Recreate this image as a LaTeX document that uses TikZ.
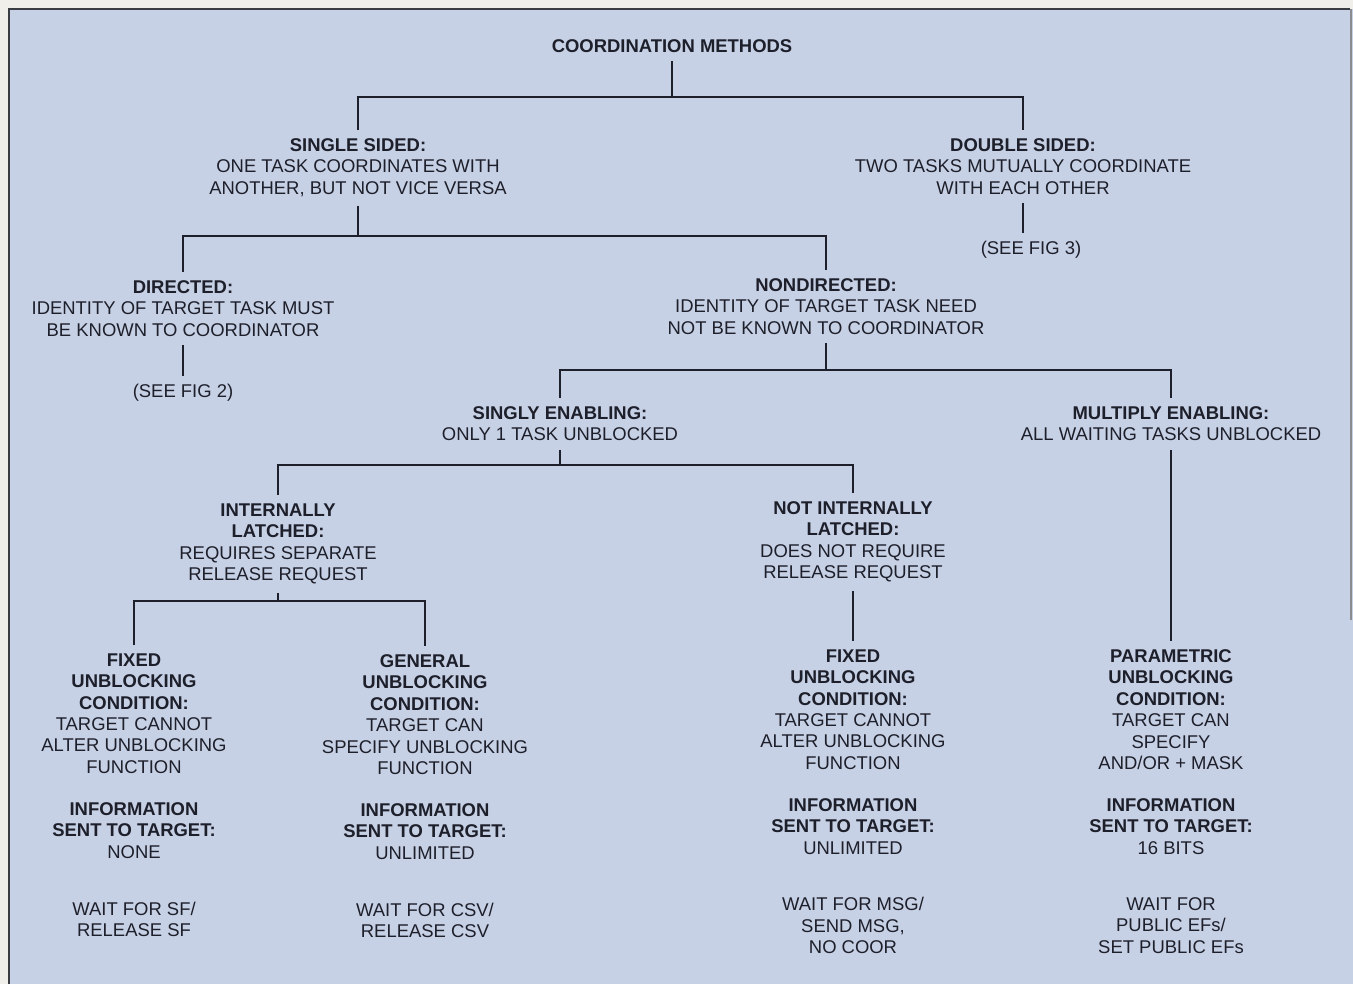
\documentclass[tikz,border=0pt]{standalone}
\usepackage{fontspec}
\setmainfont{Liberation Sans}
\usepackage{xcolor}
\usepackage{tikz}
\usetikzlibrary{positioning}
\definecolor{paper}{HTML}{F1EFE9}
\definecolor{panel}{HTML}{C7D1E5}
\definecolor{ink}{HTML}{1D1F2A}
\definecolor{rim}{HTML}{3A3D42}

\begin{document}
\begin{tikzpicture}[x=0.02cm,y=-0.02cm]
    \tikzset{n/.style={align=center,inner sep=0pt,outer xsep=0pt,outer ysep=5.1pt,anchor=north,text=ink,font=\fontsize{10.5}{12.2}\selectfont}, e/.style={draw=ink,line width=1.1pt}}
    % page and panel
    \fill[paper] (0,0) rectangle (1353,984);
    \fill[panel] (9,9) rectangle (1353,984);
    \draw[rim,line width=1pt] (9,984) -- (9,9) -- (1350,9);
    \draw[rim!60,line width=0.6pt] (1351,9) -- (1351,620);
    \useasboundingbox (0,0) rectangle (1353,984);
    % tree
    \node[n] (cm) at (672,30.5) {\textbf{COORDINATION METHODS}};
    \node[n] (ss) at (358,129.5) {\textbf{SINGLE SIDED:}\\ONE TASK COORDINATES WITH\\ANOTHER, BUT NOT VICE VERSA};
    \node[n] (ds) at (1023,129.5) {\textbf{DOUBLE SIDED:}\\TWO TASKS MUTUALLY COORDINATE\\WITH EACH OTHER};
    \node[n] (fig3) at (1031,232.5) {(SEE FIG 3)};
    \node[n] (dir) at (183,271.5) {\textbf{DIRECTED:}\\IDENTITY OF TARGET TASK MUST\\BE KNOWN TO COORDINATOR};
    \node[n] (fig2) at (183,375.5) {(SEE FIG 2)};
    \node[n] (ndir) at (826,269.5) {\textbf{NONDIRECTED:}\\IDENTITY OF TARGET TASK NEED\\NOT BE KNOWN TO COORDINATOR};
    \node[n] (se) at (560,397.5) {\textbf{SINGLY ENABLING:}\\ONLY 1 TASK UNBLOCKED};
    \node[n] (me) at (1171,397.5) {\textbf{MULTIPLY ENABLING:}\\ALL WAITING TASKS UNBLOCKED};
    \node[n] (il) at (278,494.5) {\textbf{INTERNALLY}\\\textbf{LATCHED:}\\REQUIRES SEPARATE\\RELEASE REQUEST};
    \node[n] (nil) at (853,492.5) {\textbf{NOT INTERNALLY}\\\textbf{LATCHED:}\\DOES NOT REQUIRE\\RELEASE REQUEST};
    \node[n] (fa) at (134,644.5) {\textbf{FIXED}\\\textbf{UNBLOCKING}\\\textbf{CONDITION:}\\TARGET CANNOT\\ALTER UNBLOCKING\\FUNCTION};
    \node[n] (ga) at (425,645.5) {\textbf{GENERAL}\\\textbf{UNBLOCKING}\\\textbf{CONDITION:}\\TARGET CAN\\SPECIFY UNBLOCKING\\FUNCTION};
    \node[n] (fb) at (853,640.5) {\textbf{FIXED}\\\textbf{UNBLOCKING}\\\textbf{CONDITION:}\\TARGET CANNOT\\ALTER UNBLOCKING\\FUNCTION};
    \node[n] (pb) at (1171,640.5) {\textbf{PARAMETRIC}\\\textbf{UNBLOCKING}\\\textbf{CONDITION:}\\TARGET CAN\\SPECIFY\\AND/OR + MASK};
    % information sent and calls
    \node[n,below=0.22cm of fa] (fainfo) {\textbf{INFORMATION}\\\textbf{SENT TO TARGET:}\\NONE};
    \node[n,below=0.22cm of ga] (gainfo) {\textbf{INFORMATION}\\\textbf{SENT TO TARGET:}\\UNLIMITED};
    \node[n,below=0.22cm of fb] (fbinfo) {\textbf{INFORMATION}\\\textbf{SENT TO TARGET:}\\UNLIMITED};
    \node[n,below=0.22cm of pb] (pbinfo) {\textbf{INFORMATION}\\\textbf{SENT TO TARGET:}\\16 BITS};
    \node[n,below=0.51cm of fainfo] (fawait) {WAIT FOR SF/\\RELEASE SF};
    \node[n,below=0.51cm of gainfo] (gawait) {WAIT FOR CSV/\\RELEASE CSV};
    \node[n,below=0.5cm of fbinfo] (fbwait) {WAIT FOR MSG/\\SEND MSG,\\NO COOR};
    \node[n,below=0.5cm of pbinfo] (pbwait) {WAIT FOR\\PUBLIC EFs/\\SET PUBLIC EFs};
    % branch points
    \coordinate (j1) at (672,97);
    \coordinate (j2) at (358,236);
    \coordinate (j3) at (826,370);
    \coordinate (j4) at (560,465);
    \coordinate (j5) at (278,601);
    \draw[e] (cm.south) -- (j1) -| (ss.north); \draw[e] (j1) -| (ds.north);
    \draw[e] (ss.south) -- (j2) -| (dir.north); \draw[e] (j2) -| (ndir.north);
    \draw[e] (ds.south) -- (ds.south |- fig3.north);
    \draw[e] (dir.south) -- (fig2.north);
    \draw[e] (ndir.south) -- (j3) -| (se.north); \draw[e] (j3) -| (me.north);
    \draw[e] (se.south) -- (j4) -| (il.north); \draw[e] (j4) -| (nil.north);
    \draw[e] (il.south) -- (j5) -| (fa.north); \draw[e] (j5) -| (ga.north);
    \draw[e] (nil.south) -- (fb.north);
    \draw[e] (me.south) -- (pb.north);
\end{tikzpicture}
\end{document}
